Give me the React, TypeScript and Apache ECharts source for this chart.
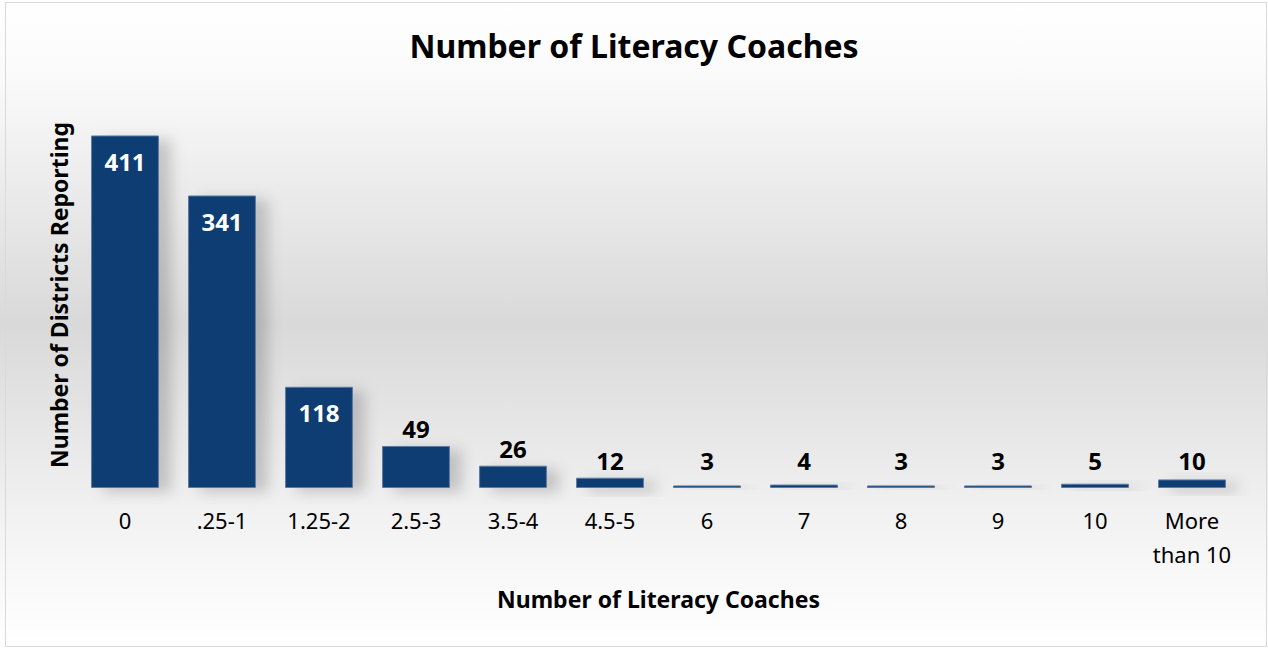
import React, { useEffect, useRef } from "react";
import * as echarts from "echarts";

const categories = ["0", ".25-1", "1.25-2", "2.5-3", "3.5-4", "4.5-5", "6", "7", "8", "9", "10", "More\nthan 10"];
const values = [411, 341, 118, 49, 26, 12, 3, 4, 3, 3, 5, 10];
const insideThreshold = 100;
const labelFloor = 12;

const FONT = "Noto Sans";
const Y_MAX = 450;
const PLOT_H = 386;

export default function App() {
  const ref = useRef<HTMLDivElement>(null);
  useEffect(() => {
    document.body.style.margin = "0";
    const chart = echarts.init(ref.current!, null, { renderer: "svg" });
    const pxPerUnit = PLOT_H / Y_MAX;
    chart.setOption({
      animation: false,
      backgroundColor: new echarts.graphic.LinearGradient(0, 0, 0, 1, [
        { offset: 0, color: "#ffffff" },
        { offset: 0.12, color: "#fafafa" },
        { offset: 0.5, color: "#d9d9d9" },
        { offset: 0.85, color: "#f6f6f6" },
        { offset: 1, color: "#ffffff" },
      ]),
      textStyle: { fontFamily: FONT },
      title: {
        text: "Number of Literacy Coaches",
        left: "center",
        top: 24,
        textStyle: { fontFamily: FONT, fontSize: 32, fontWeight: "bold", color: "#000" },
      },
      graphic: [
        {
          type: "rect",
          shape: { x: 5.5, y: 2.5, width: 1261, height: 644 },
          style: { fill: "none", stroke: "#d9d9d9", lineWidth: 1 },
          silent: true,
        },
      ],
      grid: { left: 76.5, right: 27.5, top: 102, bottom: 160 },
      xAxis: {
        type: "category",
        data: categories,
        axisLine: { show: false },
        axisTick: { show: false },
        axisLabel: { interval: 0, fontSize: 22, color: "#000", margin: 15, lineHeight: 34, fontFamily: FONT },
        name: "Number of Literacy Coaches",
        nameLocation: "middle",
        nameGap: 99,
        nameTextStyle: { fontSize: 23, fontWeight: "bold", color: "#000", fontFamily: FONT },
      },
      yAxis: {
        type: "value",
        min: 0,
        max: Y_MAX,
        show: true,
        axisLine: { show: false },
        axisTick: { show: false },
        axisLabel: { show: false },
        splitLine: { show: false },
        name: "Number of Districts Reporting",
        nameLocation: "middle",
        nameGap: 6,
        nameRotate: 90,
        nameTextStyle: { fontSize: 23, fontWeight: "bold", color: "#000", fontFamily: FONT },
      },
      series: [
        {
          type: "bar",
          data: values.map((v) => ({
            value: v,
            label:
              v > insideThreshold
                ? { position: "insideTop", distance: 14, color: "#fff" }
                : {
                    position: "top",
                    distance: 5 + Math.max(0, labelFloor - v) * pxPerUnit,
                    color: "#000",
                  },
          })),
          barWidth: "70%",
          itemStyle: {
            color: "#0f3e73",
            borderColor: "#5b7aa3",
            borderWidth: 1,
            shadowBlur: 14,
            shadowColor: "rgba(0,0,0,0.18)",
            shadowOffsetX: 12,
            shadowOffsetY: 4,
          },
          label: { show: true, fontSize: 24, fontWeight: "bold", fontFamily: FONT },
        },
      ],
    });
    return () => chart.dispose();
  }, []);
  return <div ref={ref} style={{ width: 1268, height: 648 }} />;
}
